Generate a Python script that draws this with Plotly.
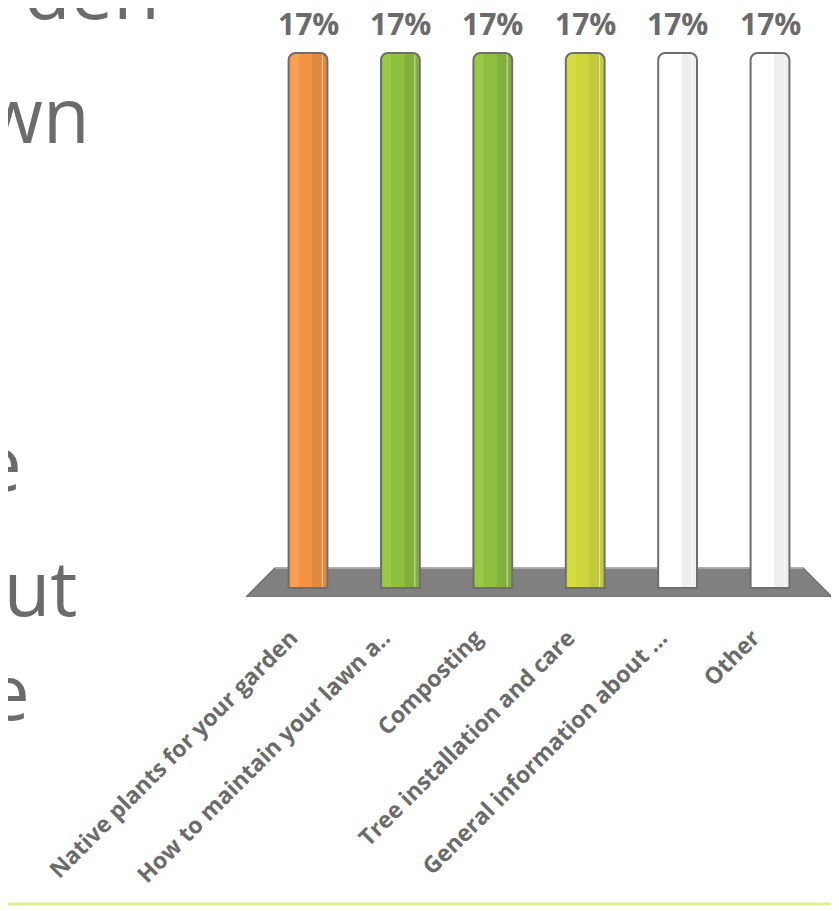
import plotly.graph_objects as go

# ---- data ----
categories = [
    "Native plants for your garden",
    "How to maintain your lawn a..",
    "Composting",
    "Tree installation and care",
    "General information about ...",
    "Other",
]
values = [17, 17, 17, 17, 17, 17]
value_labels = ["17%", "17%", "17%", "17%", "17%", "17%"]

main_colors = ["#f29443", "#8fbf3e", "#8fbf3e", "#cdd63b", "#ffffff", "#ffffff"]
light_colors = ["#f9a052", "#9ac946", "#9ac946", "#d5dd42", "#ffffff", "#ffffff"]
dark_colors = ["#e1883c", "#83b03a", "#83b03a", "#c1c83a", "#eeeeee", "#eeeeee"]

left_text = ["rden", "wn", "e", "out", "e"]
left_text_right_px = [162, 92, 24, 79, 32]
left_text_baseline_px = [17, 140, 488, 613, 717]

# ---- geometry / style ----
OFF = 8                       # page body margin
W, H = 839 - OFF, 911 - OFF   # figure fits the window
PL, PR, PT, PB = 246 - OFF, 832 - OFF, 0, 597 - OFF  # plot area (figure px)
PX_PER_UNIT = 31.47
BAR_W = 0.42
FLOOR_IN, FLOOR_OUT = 0.357, 0.671
FLOOR_TOP, FLOOR_BOT = 0.636, -0.286
Y_TOP = FLOOR_BOT + (PB - PT) / PX_PER_UNIT
GRAY = "#6b6b6b"

n = len(categories)
x = list(range(n))


def px_x(px):
    return (px - OFF - PL) / (PR - PL)


def px_y(py):
    return (PB - (py - OFF)) / (PB - PT)


fig = go.Figure()

# main body
fig.add_trace(go.Bar(x=x, y=values, width=BAR_W, offset=-BAR_W / 2,
                     marker=dict(color=main_colors, line=dict(width=0), cornerradius=7),
                     hoverinfo="skip", showlegend=False))
# dark right strip
fig.add_trace(go.Bar(x=x, y=values, width=0.15, offset=0.045,
                     marker=dict(color=dark_colors, line=dict(width=0), cornerradius=3),
                     hoverinfo="skip", showlegend=False))
# light left strip
fig.add_trace(go.Bar(x=x, y=values, width=0.09, offset=-0.19,
                     marker=dict(color=light_colors, line=dict(width=0), cornerradius=3),
                     hoverinfo="skip", showlegend=False))
# thin highlight line
fig.add_trace(go.Bar(x=x, y=values, width=0.012, offset=0.15,
                     marker=dict(color=["rgba(255,255,255,0.55)"] * n, line=dict(width=0)),
                     hoverinfo="skip", showlegend=False))
# outline
fig.add_trace(go.Bar(x=x, y=values, width=BAR_W, offset=-BAR_W / 2,
                     marker=dict(color="rgba(0,0,0,0)", line=dict(color="#6e6e6e", width=2),
                                 cornerradius=7),
                     hoverinfo="skip", showlegend=False))

# floor (parallelogram) under the bars
x0 = -FLOOR_OUT
x1 = -FLOOR_IN
x2 = (n - 1) + FLOOR_IN
x3 = (n - 1) + FLOOR_OUT
fig.add_shape(type="path", xref="x", yref="y", layer="below",
              path=f"M {x0} {FLOOR_BOT} L {x1} {FLOOR_TOP} L {x2} {FLOOR_TOP} L {x3} {FLOOR_BOT} Z",
              fillcolor="#808080", line=dict(color="#707070", width=1.5))
# light rim on floor's back edge
fig.add_shape(type="line", xref="x", yref="y", layer="below",
              x0=x1, x1=x2, y0=FLOOR_TOP, y1=FLOOR_TOP,
              line=dict(color="#b8b8b8", width=1.5))

annotations = []
# data labels
for xi, v, t in zip(x, values, value_labels):
    annotations.append(dict(x=xi, y=v, xref="x", yref="y", text=t, showarrow=False,
                            yanchor="bottom", yshift=8, borderpad=0,
                            font=dict(family="Open Sans", size=30, color=GRAY, weight="bold")))

# left slide text fragments
for t, rx, by in zip(left_text, left_text_right_px, left_text_baseline_px):
    annotations.append(dict(x=px_x(rx), y=px_y(by - 27), xref="paper", yref="paper",
                            text=t, showarrow=False, xanchor="right", yanchor="middle",
                            font=dict(family="Open Sans", size=76, color=GRAY)))

fig.update_layout(
    width=W, height=H,
    margin=dict(l=PL, r=W - PR, t=PT, b=H - PB),
    paper_bgcolor="white", plot_bgcolor="white",
    barmode="overlay",
    showlegend=False,
    annotations=annotations,
    xaxis=dict(range=[x0, x3], tickmode="array", tickvals=x, ticktext=categories,
               tickangle=-45, showgrid=False, zeroline=False, showline=False, ticks="",
               ticklabelstandoff=22, ticklabelshift=-17,
               tickfont=dict(family="Open Sans", size=23, color=GRAY, weight="bold")),
    yaxis=dict(range=[FLOOR_BOT, Y_TOP], visible=False, showgrid=False, zeroline=False),
)

# bottom accent line
fig.add_shape(type="line", xref="paper", yref="paper",
              x0=px_x(-OFF), x1=px_x(900), y0=px_y(904), y1=px_y(904),
              line=dict(color="#e3f190", width=3))

fig.write_html("out.html")
